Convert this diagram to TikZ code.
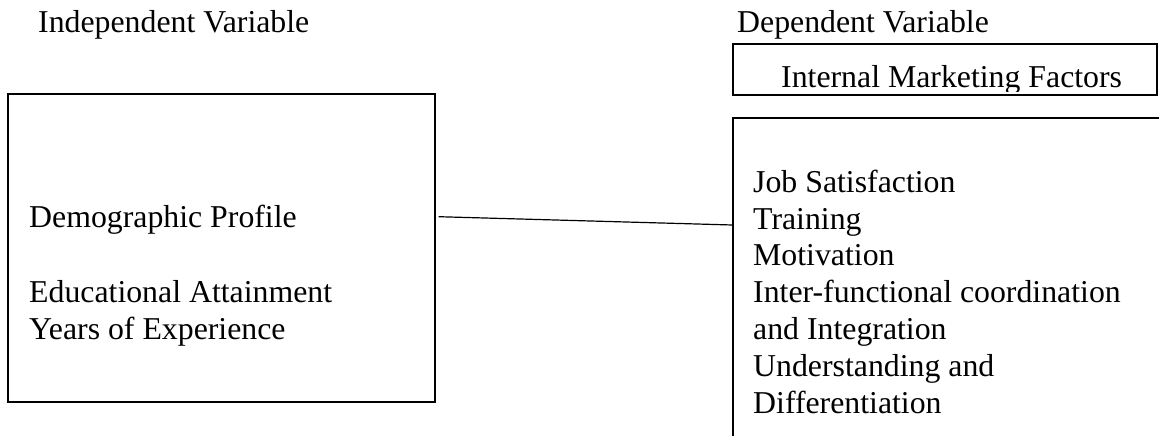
\documentclass[tikz,border=0pt]{standalone}
\usepackage{fontspec}
\setmainfont{Liberation Serif}
\begin{document}
\begin{tikzpicture}[
		x={(1pt,0pt)},
		y={(0pt,-1pt)},
		font=\fontsize{31.8}{36.75}\selectfont,
		box/.style={draw,line width=1.2pt,inner sep=0pt},
		lbl/.style={anchor=base west,inner sep=0pt},
	]
		\useasboundingbox (0,0) rectangle (1159,436);
		
		\node[lbl] (indtitle) at (38,33) {Independent Variable};
		\node[lbl] (deptitle) at (737,33) {Dependent Variable};
		
		\node[box,minimum width=427pt,minimum height=308pt] (indep) at (221.5,248) {};
		\node[box,minimum width=424pt,minimum height=51pt] (imf) at (945,69.5) {};
		\node[box,minimum width=447pt,minimum height=342pt] (dep) at (956.5,289) {};
		
		\begin{scope}
			\clip (imf.north west) rectangle ([yshift=4pt]imf.south east);
			\node[lbl] (imftext) at (781,88) {Internal Marketing Factors};
		\end{scope}
		
		\node[lbl] (demo) at (29,227) {Demographic Profile};
		\node[lbl] (educ) at (29,302) {Educational Attainment};
		\node[lbl] (years) at (29,339) {Years of Experience};
		
		\foreach \t [count=\i from 0] in {Job Satisfaction, Training, Motivation, Inter-functional coordination, and Integration, Understanding and, Differentiation}{
			\node[lbl] (fac\i) at (753,{192.3+\i*36.8}) {\t};
		}
		
		\draw[line width=1.2pt] ([shift={(3,-31.3)}]indep.east) -- ([shift={(0,-64)}]dep.west);
	\end{tikzpicture}
\end{document}
